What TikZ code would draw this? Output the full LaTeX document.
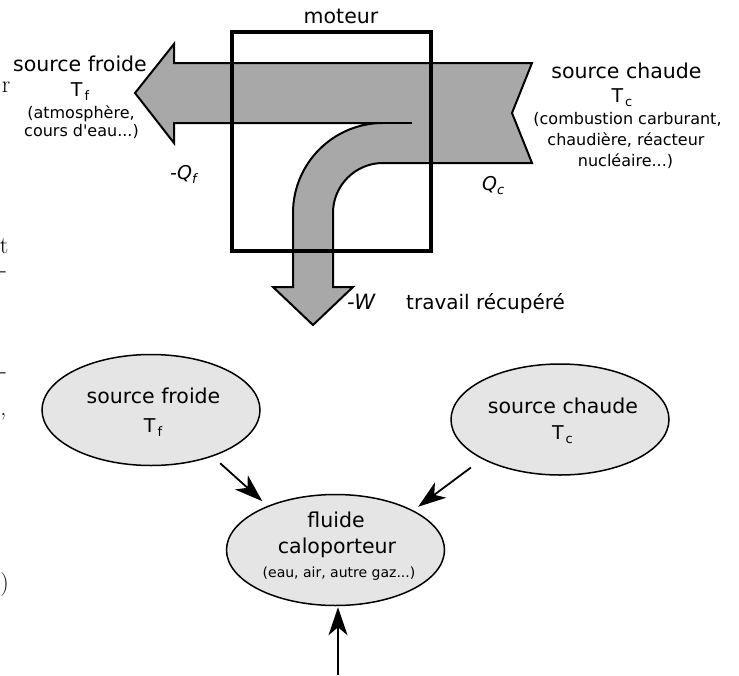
\documentclass[tikz,border=0pt]{standalone}
\usepackage{fontspec}
\newfontfamily\dv{DejaVu Sans}
\usetikzlibrary{arrows.meta,shapes.geometric}
\definecolor{flowgray}{RGB}{168,168,168}
\definecolor{bubblegray}{RGB}{229,229,229}
\newcommand\subtxt[1]{{\fontsize{13}{13}\selectfont\raisebox{-4pt}{#1}}}
\begin{document}
\begin{tikzpicture}[x=1pt,y=-1pt,
  big/.style={font=\dv\fontsize{20.5}{24}\selectfont, inner sep=0pt, anchor=base},
  bigw/.style={font=\dv\fontsize{19}{22}\selectfont, inner sep=0pt, anchor=base west},
  small/.style={font=\dv\fontsize{16}{19}\selectfont, inner sep=0pt, anchor=base},
  tinytxt/.style={font=\dv\fontsize{14}{16}\selectfont, inner sep=0pt, anchor=base},
  stray/.style={font=\fontsize{24}{26}\selectfont, inner sep=0pt, anchor=base east},
  bubble/.style={ellipse, draw=black, line width=1.5pt, fill=bubblegray, minimum width=218pt, minimum height=111pt, inner sep=0pt},
  conn/.style={line width=1.8pt, -{Stealth[length=28pt,width=19pt,inset=8pt]}},
  flow/.style={fill=flowgray, draw=black, line width=2pt, line join=miter},
  frame/.style={draw=black, line width=4pt}
]
\useasboundingbox (0,0) rectangle (739,675);

% stray glyphs at the left edge
\node[stray] (g1) at (10.5,92) {r};
\node[stray] (g2) at (8.5,253) {t};
\node[stray] (g3) at (7,277) {-};
\node[stray] (g4) at (7,378) {-};
\node[stray] (g5) at (6.5,415) {,};
\node[stray] (g6) at (9,590) {)};

% heat flow arrows
\path[flow] (135,93) -- (174,44) -- (174,63) -- (532,63) -- (512,113) -- (532,163) -- (383,163)
  .. controls (355.4,163) and (333,185.4) .. (333,213) -- (333,287) -- (353,287) -- (313,325)
  -- (273,287) -- (293,287) -- (293,213) .. controls (293,163.3) and (333.3,123) .. (383,123)
  -- (174,123) -- (174,143) -- cycle;
\draw[line width=2.5pt] (383,123) -- (412,123);

% engine frame
\draw[frame] (232,32) rectangle (431.3,251.3);
\node[big] (moteur) at (341,23) {moteur};

% left labels
\node[big] (sfl) at (80,71) {source froide};
\node[big] (tfl) at (80,96) {\fontsize{19}{22}\selectfont T\hspace{2pt}\subtxt{f}};
\node[small] (atm) at (81,118) {(atmosphère,};
\node[small] (cde) at (81.5,136) {cours d'eau...)};

% right labels
\node[big] (scl) at (626.5,78) {source chaude};
\node[big] (tcl) at (622,102) {\fontsize{19}{22}\selectfont T\hspace{2pt}\subtxt{c}};
\node[small] (cmb) at (627.5,124) {(combustion carburant,};
\node[small] (chd) at (626,145.5) {chaudière, réacteur};
\node[small] (nuc) at (625.5,166) {nucléaire...)};

% quantities
\node[bigw] (qf) at (170,179) {\itshape -Q\subtxt{\itshape f}};
\node[bigw] (qc) at (482,190) {\itshape Q\subtxt{\itshape c}};
\node[bigw, font=\dv\fontsize{21}{24}\selectfont] (w) at (347,309) {\itshape -W};
\node[bigw, font=\dv\fontsize{20}{24}\selectfont] (trv) at (406,309) {travail récupéré};

% bottom diagram
\node[bubble] (sf) at (151,410) {};
\node[bubble] (sc) at (560,419.5) {};
\node[bubble] (fl) at (335.5,550) {};

\node[big] (sft) at (153.5,403) {source froide};
\node[big] (sftt) at (153,432) {\fontsize{19}{22}\selectfont T\hspace{2pt}\subtxt{f}};
\node[big] (sct) at (563,413) {source chaude};
\node[big] (sctt) at (562.5,439) {\fontsize{19}{22}\selectfont T\hspace{2pt}\subtxt{c}};
\node[big] (flt1) at (336,527) {fluide};
\node[big] (flt2) at (337,553) {caloporteur};
\node[tinytxt] (flt3) at (339,577) {(eau, air, autre gaz...)};

\coordinate (bstart) at (338,675);
\draw[conn, shorten <=10pt, shorten >=7pt] (sf.-37) -- (fl.147);
\draw[conn, shorten <=14pt, shorten >=6pt] (sc.-153) -- (fl.27);
\draw[conn, shorten >=1pt] (bstart) -- (bstart |- fl.south);
\end{tikzpicture}
\end{document}
